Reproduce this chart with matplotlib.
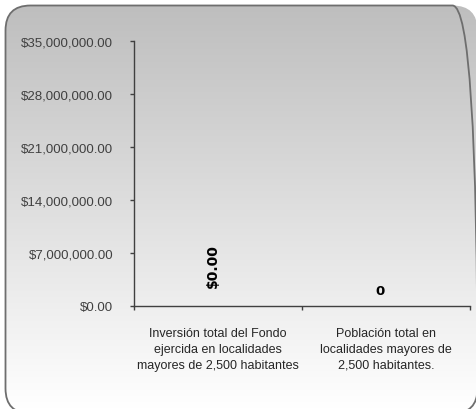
import numpy as np
import matplotlib
matplotlib.use("Agg")
import matplotlib.pyplot as plt
from matplotlib.patches import FancyBboxPatch
from matplotlib.ticker import FixedLocator

categories = [
    "Inversión total del Fondo\nejercida en localidades\nmayores de 2,500 habitantes",
    "Población total en\nlocalidades mayores de\n2,500 habitantes.",
]
values = [0, 0]
value_labels = ["$0.00", "0"]
yticks = [0, 7000000, 14000000, 21000000, 28000000, 35000000]

plt.rcParams["font.family"] = ["Liberation Sans", "DejaVu Sans"]

fig = plt.figure(figsize=(4.76, 4.10), dpi=100)

# background: rounded frame (cut off at right/bottom) with grey-to-white gradient
bg = fig.add_axes([0, 0, 1, 1])
bg.set_xlim(0, 476)
bg.set_ylim(0, 410)
bg.axis("off")
frame = FancyBboxPatch((5.5, -4.5), 472, 408, boxstyle="round,pad=0,rounding_size=25",
                       facecolor="none", edgecolor="#6e6e6e", lw=1.3, zorder=3)
bg.add_patch(frame)
grad = np.linspace(0, 1, 256).reshape(-1, 1)
cmap = matplotlib.colors.LinearSegmentedColormap.from_list("g", ["#bdbdbd", "#ffffff"])
img = bg.imshow(grad, cmap=cmap, extent=[0, 476, 0, 410], origin="upper",
                aspect="auto", zorder=1)
img.set_clip_path(frame)

ax = fig.add_axes([134 / 476, 1 - 307 / 410, (470 - 134) / 476, (307 - 42) / 410])
ax.patch.set_alpha(0)
x = np.arange(len(categories))
ax.bar(x, values, width=0.5, color="#4f81bd")
ax.set_xlim(-0.5, 1.5)
ax.set_ylim(0, 35000000)
ax.set_yticks(yticks)
ax.set_yticklabels([f"${v:,.2f}" for v in yticks], fontsize=9.5, color="#404040")
ax.set_xticks(x)
ax.set_xticklabels(categories, fontsize=9, color="#262626", linespacing=1.45)
ax.xaxis.set_minor_locator(FixedLocator([-0.5, 0.5, 1.5]))
ax.tick_params(axis="x", which="major", length=0, pad=15)
ax.tick_params(axis="x", which="minor", length=3, width=1, color="#404040")
ax.tick_params(axis="y", length=3, width=1, color="#404040", pad=12)
for side in ["top", "right"]:
    ax.spines[side].set_visible(False)
for side in ["left", "bottom"]:
    ax.spines[side].set_color("#404040")
    ax.spines[side].set_linewidth(1)

ax.annotate(value_labels[0], (x[0], values[0]), xytext=(-4, 14), textcoords="offset points",
            rotation=90, ha="center", va="bottom", fontsize=10, fontweight="bold",
            family="DejaVu Sans")
ax.annotate(value_labels[1], (x[1], values[1]), xytext=(-4, 6.5), textcoords="offset points",
            ha="center", va="bottom", fontsize=9.5, fontweight="bold", family="DejaVu Sans")

fig.savefig("out.png", dpi=100)
